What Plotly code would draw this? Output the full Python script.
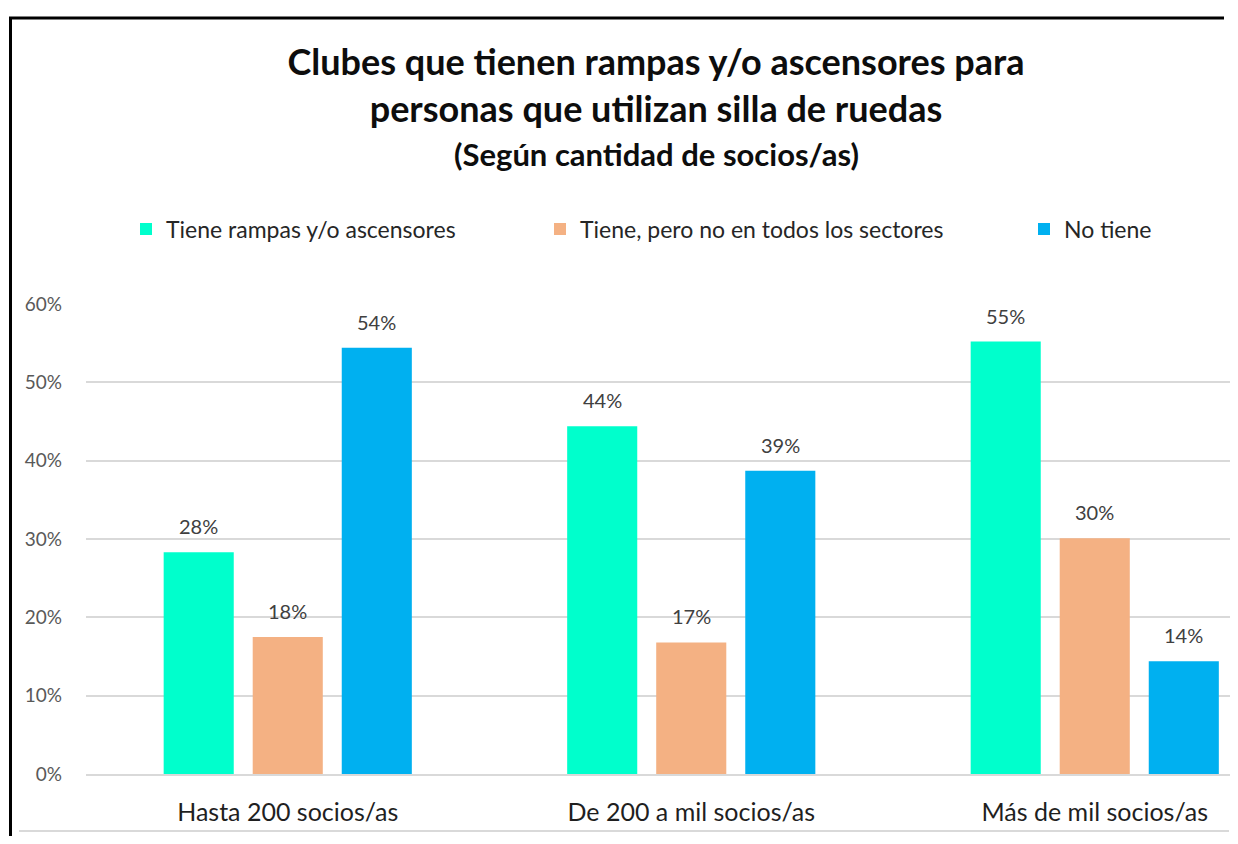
import plotly.graph_objects as go

categories = ["Hasta 200 socios/as", "De 200 a mil socios/as", "Más de mil socios/as"]
series_names = ["Tiene rampas y/o ascensores", "Tiene, pero no en todos los sectores", "No tiene"]
s_tiene = [28.3, 44.4, 55.2]
s_parcial = [17.5, 16.8, 30.1]
s_no = [54.4, 38.7, 14.4]
series_values = [s_tiene, s_parcial, s_no]
colors = ["#00FFCC", "#F4B183", "#00B0F0"]
y_ticks = [0, 10, 20, 30, 40, 50, 60]

OFF = 8  # browser body margin
W, H = 1238 - OFF, 844 - 2 * OFF
ML, MR = 86 - OFF, 0
MT = 304 - OFF
MB = H - (774 - OFF)
PW = W - ML - MR
PH = H - MT - MB
cat_px = 403.5
FONT = "Lato"


def px_x(page_x):
    return (page_x - OFF - ML) / PW


def px_y(page_y):
    return (H - MB - (page_y - OFF)) / PH


fig = go.Figure()
legend_ids = ["legend", "legend2", "legend3"]
for i, (name, vals, col) in enumerate(zip(series_names, series_values, colors)):
    fig.add_trace(go.Bar(
        x=categories, y=vals, name=name, marker=dict(color=col, line=dict(width=0)),
        legend=legend_ids[i], hoverinfo="skip",
    ))

slot = cat_px * (1 - 0.338) / 3
annotations = []
for i, vals in enumerate(series_values):
    for c, v in zip(categories, vals):
        annotations.append(dict(
            x=c, y=v, xref="x", yref="y", text=f"{v:.0f}%", showarrow=False,
            xshift=(i - 1) * slot, yshift=26, yanchor="middle",
            font=dict(family=FONT, size=20, color="#404040"),
        ))

annotations.append(dict(
    x=px_x(656), y=px_y(154), xref="paper", yref="paper",
    text="<b>(Según cantidad de socios/as)</b>",
    showarrow=False, font=dict(family=FONT, size=31, color="#0D0D0D"),
    xanchor="center", yanchor="middle",
))

sym_centers = [150, 564, 1048]
leg = {}
for lid, sc in zip(legend_ids, sym_centers):
    leg[lid] = dict(
        orientation="h", x=px_x(sc - 4 - 20), xanchor="left",
        y=px_y(229), yanchor="middle", bgcolor="rgba(0,0,0,0)",
        font=dict(family=FONT, size=23, color="#262626"), borderwidth=0,
    )

shapes = [
    dict(type="line", xref="paper", yref="paper", x0=px_x(9), x1=px_x(1224),
         y0=px_y(18), y1=px_y(18), line=dict(color="#000000", width=3)),
    dict(type="line", xref="paper", yref="paper", x0=px_x(10.5), x1=px_x(10.5),
         y0=px_y(17), y1=px_y(844), line=dict(color="#000000", width=3)),
    dict(type="line", xref="paper", yref="paper", x0=px_x(19), x1=px_x(1229),
         y0=px_y(831), y1=px_y(831), line=dict(color="#D9D9D9", width=2)),
]

fig.update_layout(
    width=W, height=H, autosize=False,
    margin=dict(l=ML, r=MR, t=MT, b=MB, pad=0),
    paper_bgcolor="white", plot_bgcolor="white",
    barmode="group", bargap=0.338, bargroupgap=0.213,
    title=dict(
        text="<b>Clubes que tienen rampas y/o ascensores para</b><br><b>personas que utilizan silla de ruedas</b>",
        x=px_x(656) * PW / W + ML / W, xanchor="center", y=1 - 67 / H, yanchor="middle",
        font=dict(family=FONT, size=36, color="#0D0D0D"),
    ),
    xaxis=dict(
        type="category", range=[-0.5, -0.5 + PW / cat_px], showgrid=False,
        showline=True, linecolor="#D9D9D9", linewidth=2, ticks="",
        tickfont=dict(family=FONT, size=25, color="#1F1F1F"), ticklabelstandoff=15,
        fixedrange=True,
    ),
    yaxis=dict(
        range=[0, 60], tickvals=y_ticks, ticktext=[f"{t}%" for t in y_ticks],
        showgrid=True, gridcolor="#D9D9D9", gridwidth=2, zeroline=False, showline=False,
        ticks="", tickfont=dict(family=FONT, size=19, color="#595959"), ticklabelstandoff=23,
        fixedrange=True,
    ),
    annotations=annotations,
    shapes=shapes,
    showlegend=True,
    **leg,
)

fig.write_html("out.html", config={"displayModeBar": False})
